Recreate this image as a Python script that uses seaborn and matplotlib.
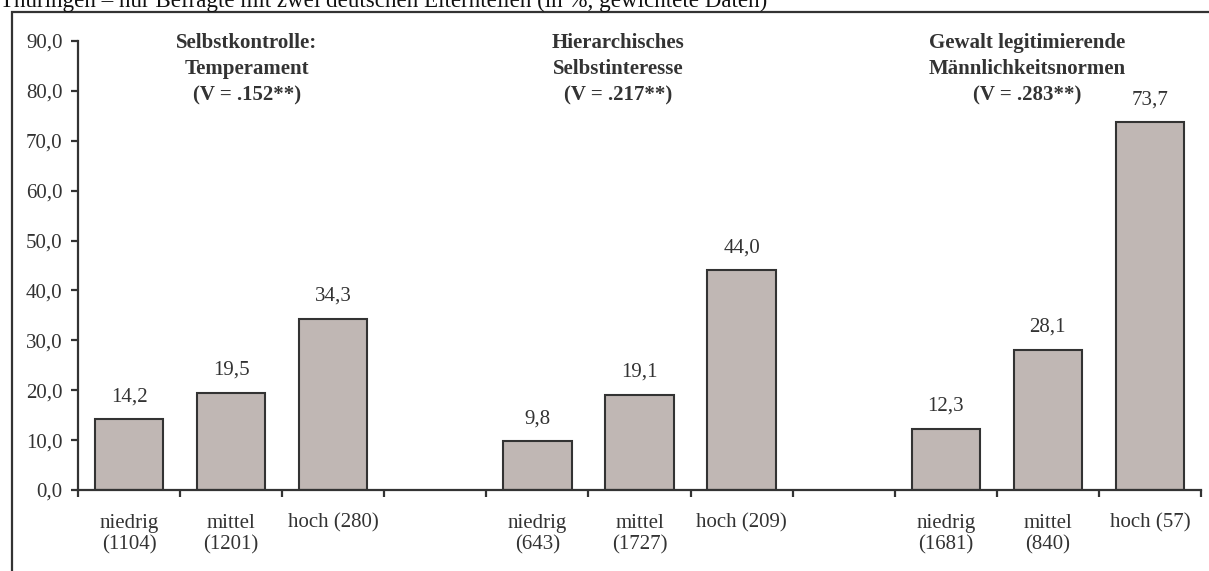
import matplotlib
matplotlib.use("Agg")
import matplotlib.pyplot as plt
from matplotlib.patches import Rectangle
from matplotlib.ticker import FuncFormatter, FixedLocator
import seaborn as sns
import pandas as pd

# ---- data -------------------------------------------------------------
title = "Thüringen – nur Befragte mit zwei deutschen Elternteilen (in %, gewichtete Daten)"

temperament_labels = ["niedrig\n(1104)", "mittel\n(1201)", "hoch (280)"]
temperament_values = [14.2, 19.5, 34.3]

selbstinteresse_labels = ["niedrig\n(643)", "mittel\n(1727)", "hoch (209)"]
selbstinteresse_values = [9.8, 19.1, 44.0]

maennlichkeit_labels = ["niedrig\n(1681)", "mittel\n(840)", "hoch (57)"]
maennlichkeit_values = [12.3, 28.1, 73.7]

group_titles = [
    "Selbstkontrolle:\nTemperament\n(V = .152**)",
    "Hierarchisches\nSelbstinteresse\n(V = .217**)",
    "Gewalt legitimierende\nMännlichkeitsnormen\n(V = .283**)",
]

y_ticks = [0, 10, 20, 30, 40, 50, 60, 70, 80, 90]

# ---- table for seaborn --------------------------------------------------
df = pd.DataFrame({
    "kategorie": temperament_labels + selbstinteresse_labels + maennlichkeit_labels,
    "anteil": temperament_values + selbstinteresse_values + maennlichkeit_values,
})
gap_a, gap_b = "_leer1", "_leer2"
order = temperament_labels + [gap_a] + selbstinteresse_labels + [gap_b] + maennlichkeit_labels

# ---- styling ------------------------------------------------------------
sns.set_style("white")
plt.rcParams["font.family"] = ["Liberation Serif", "DejaVu Serif"]
ink = "#333333"
bar_fill = "#c0b7b4"

W, H, DPI = 1209, 571, 100
fig = plt.figure(figsize=(W / DPI, H / DPI), dpi=DPI)
ax = fig.add_axes([78 / W, 81 / H, (1201 - 78) / W, (490 - 41) / H])

sns.barplot(data=df, x="kategorie", y="anteil", order=order, color=bar_fill,
            saturation=1, edgecolor=ink, linewidth=1.5, width=0.67,
            errorbar=None, ax=ax)

ax.set_xlim(-0.5, len(order) - 0.5)
ax.set_ylim(0, 90)
ax.set_xlabel("")
ax.set_ylabel("")

# axes and ticks
for side in ("top", "right"):
    ax.spines[side].set_visible(False)
for side in ("left", "bottom"):
    ax.spines[side].set_color(ink)
    ax.spines[side].set_linewidth(1.6)

ax.set_yticks(y_ticks)
ax.yaxis.set_major_formatter(FuncFormatter(lambda v, p: f"{v:.1f}".replace(".", ",")))
ax.tick_params(axis="y", direction="out", length=5, width=1.6, color=ink,
               labelsize=15, labelcolor=ink, pad=6, left=True)

tick_text = [("" if lab.startswith("_leer") else lab) for lab in order]
ax.set_xticks(range(len(order)))
ax.set_xticklabels(tick_text, linespacing=1.17)
ax.xaxis.set_minor_locator(FixedLocator([i - 0.5 for i in range(len(order) + 1)]))
ax.tick_params(axis="x", which="major", length=0, labelsize=15, labelcolor=ink, pad=17)
ax.tick_params(axis="x", which="minor", direction="out", length=5, width=1.6,
               color=ink, bottom=True)

# value labels from bar heights
for bar in ax.patches:
    h = bar.get_height()
    if h != h:  # NaN placeholder
        continue
    ax.annotate(f"{h:.1f}".replace(".", ","),
                (bar.get_x() + bar.get_width() / 2, h),
                xytext=(0, 13), textcoords="offset points",
                ha="center", va="baseline", fontsize=15, color=ink)

# group headings
for x, txt in zip([1.155, 4.79, 8.80], group_titles):
    ax.text(x, 91.7, txt, ha="center", va="top", multialignment="center",
            fontsize=15, fontweight="bold", color=ink, linespacing=1.42)

# frame and heading line
fig.add_artist(Rectangle((12 / W, -0.1), 1.2, (H - 12) / H + 0.1,
                         transform=fig.transFigure, fill=False,
                         edgecolor=ink, linewidth=1.6))
fig.text(0.0, 1 - 7 / H, title, ha="left", va="baseline", fontsize=16.6, color="#111111")

fig.savefig("out.png", dpi=DPI)
